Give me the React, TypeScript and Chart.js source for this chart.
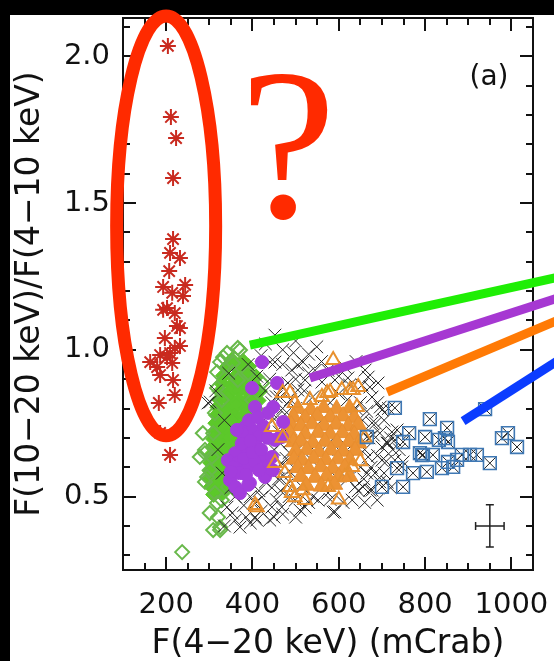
import { useEffect, useRef } from 'react';
import { Chart, registerables } from 'chart.js';

Chart.register(...registerables);

const WIDTH = 554;
const HEIGHT = 661;
const SANS = '"DejaVu Sans", sans-serif';

// Axis ranges and labelled ticks
const X_MIN = 100;
const X_MAX = 1050;
const Y_MIN = 0.25;
const Y_MAX = 2.13;
const xTickLabels = [200, 400, 600, 800, 1000];
const yTickLabels = [0.5, 1.0, 1.5, 2.0];

// Red asterisks: the low-flux, hard-ratio group
const redX = [204, 211, 223, 216, 216, 209, 232, 207, 244, 193, 214, 239, 202, 193, 220, 225, 232, 197, 232, 220, 186, 209, 163, 179, 214, 202, 186, 216, 220, 183, 186, 209];
const redY = [2.035, 1.793, 1.721, 1.585, 1.377, 1.33, 1.313, 1.268, 1.221, 1.214, 1.194, 1.183, 1.142, 1.136, 1.125, 1.081, 1.074, 1.04, 1.013, 1.006, 0.982, 0.989, 0.958, 0.941, 0.955, 0.975, 0.914, 0.897, 0.846, 0.819, 0.717, 0.642];

// Green diamonds: outlying members
const greenRimX = [371, 341, 325, 353, 318, 318, 366, 329, 313, 309, 290, 306, 290, 301, 313, 329, 301, 320, 325, 343, 360, 383, 399, 399, 422, 390, 237, 278, 295, 309, 325, 318, 332, 366, 355, 285, 290];
const greenRimY = [0.999, 0.989, 0.958, 0.924, 0.924, 0.87, 0.897, 0.829, 0.785, 0.716, 0.648, 0.635, 0.55, 0.59, 0.512, 0.488, 0.444, 0.43, 0.386, 0.533, 0.522, 0.624, 0.716, 0.829, 0.887, 0.921, 0.311, 0.635, 0.567, 0.386, 0.396, 0.478, 0.975, 1.006, 0.955, 0.716, 0.659];

// Green diamonds: the crowded middle of the group
const greenCoreX = [352, 378, 340, 366, 391, 333, 358, 384, 408, 329, 353, 377, 401, 325, 347, 371, 396, 416, 323, 344, 367, 391, 413, 320, 341, 362, 386, 407, 317, 337, 358, 380, 399, 315, 334, 355, 377, 313, 331, 351, 372, 310, 329, 349, 369, 308, 326, 345, 364, 305, 323, 343, 361, 303, 321, 341, 302, 319, 338, 301, 318, 337, 305, 323, 341, 310, 329];
const greenCoreY = [0.965, 0.961, 0.94, 0.936, 0.943, 0.912, 0.905, 0.915, 0.908, 0.885, 0.881, 0.889, 0.884, 0.858, 0.855, 0.861, 0.852, 0.859, 0.831, 0.834, 0.828, 0.833, 0.827, 0.804, 0.8, 0.807, 0.803, 0.798, 0.777, 0.781, 0.774, 0.779, 0.772, 0.75, 0.746, 0.753, 0.748, 0.722, 0.726, 0.719, 0.724, 0.696, 0.692, 0.699, 0.694, 0.668, 0.672, 0.665, 0.67, 0.642, 0.638, 0.645, 0.64, 0.615, 0.611, 0.618, 0.588, 0.585, 0.591, 0.561, 0.557, 0.564, 0.534, 0.531, 0.537, 0.507, 0.51];

// Purple filled circles
const purpleX = [422, 457, 399, 406, 448, 436, 471, 464, 383, 399, 413, 383, 360, 343, 366, 390, 422, 434, 429, 394, 348, 360, 371, 376, 410, 445, 452, 364, 390, 447, 468, 375, 395, 355, 380, 405, 370, 415, 385, 350, 400, 420, 435, 425, 392, 412];
const purpleY = [0.958, 0.887, 0.87, 0.805, 0.805, 0.785, 0.754, 0.703, 0.737, 0.727, 0.703, 0.659, 0.648, 0.624, 0.614, 0.601, 0.635, 0.601, 0.567, 0.546, 0.556, 0.533, 0.512, 0.716, 0.669, 0.635, 0.693, 0.727, 0.54, 0.59, 0.703, 0.68, 0.69, 0.6, 0.63, 0.62, 0.58, 0.59, 0.575, 0.585, 0.65, 0.66, 0.7, 0.74, 0.76, 0.77];

// Orange triangles: outlying members
const orangeRimX = [587, 445, 452, 406, 645, 607, 580, 561, 533, 498, 470, 631, 522, 491, 575, 614, 626, 642, 487, 517, 410, 498, 633, 573, 487, 660, 650, 470, 475, 600];
const orangeRimY = [0.965, 0.737, 0.614, 0.471, 0.873, 0.863, 0.856, 0.839, 0.829, 0.819, 0.853, 0.601, 0.488, 0.512, 0.533, 0.567, 0.863, 0.805, 0.533, 0.522, 0.464, 0.498, 0.863, 0.853, 0.853, 0.7, 0.62, 0.7, 0.58, 0.49];

// Orange triangles: the crowded middle of the group
const orangeCoreX = [505, 535, 565, 595, 625, 495, 522, 550, 580, 610, 636, 490, 512, 538, 566, 594, 622, 645, 488, 522, 552, 580, 608, 636, 495, 512, 540, 568, 596, 624, 646, 500, 526, 554, 582, 610, 638, 496, 515, 542, 570, 598, 626, 505, 530, 558, 586, 614, 512, 545, 572, 600, 625, 525, 560, 590];
const orangeCoreY = [0.8, 0.796, 0.803, 0.798, 0.801, 0.772, 0.768, 0.775, 0.77, 0.774, 0.769, 0.744, 0.741, 0.747, 0.742, 0.746, 0.74, 0.745, 0.715, 0.712, 0.718, 0.713, 0.717, 0.711, 0.686, 0.689, 0.683, 0.688, 0.684, 0.687, 0.682, 0.656, 0.659, 0.653, 0.658, 0.654, 0.657, 0.627, 0.623, 0.63, 0.625, 0.628, 0.624, 0.598, 0.595, 0.601, 0.596, 0.6, 0.568, 0.565, 0.571, 0.566, 0.569, 0.538, 0.535, 0.541];

// Black crosses: all remaining observations
const blackX = [452, 549, 452, 517, 491, 302, 668, 691, 654, 677, 700, 677, 695, 712, 730, 746, 700, 684, 677, 689, 656, 638, 631, 591, 575, 552, 522, 499, 468, 445, 422, 406, 371, 353, 341, 406, 515, 482, 505, 464, 522, 621, 591, 561, 661, 475, 700, 668, 723, 730, 530, 505, 672, 696, 672, 587, 510, 735, 749, 714, 712, 297, 410, 441, 430, 445, 470, 455, 480, 465, 485, 470, 490, 460, 480, 445, 430, 415, 395, 380, 360, 350, 330, 320, 335, 315, 345, 390, 410, 420, 500, 540, 580, 600, 620, 640, 655, 645, 660, 650, 665, 620, 540, 550, 600, 510, 685, 705, 725, 615, 640, 575, 545, 495, 470, 440, 420, 455, 385, 360, 335,
  440, 450, 462, 475, 488, 458, 472, 445, 488, 478, 495, 465, 485, 500, 430, 455, 470, 440, 500, 520,
  650, 665, 680, 690, 670, 658, 645, 675, 695, 710, 720, 740, 705, 690, 715, 720, 660, 610, 580, 530,
  520, 560, 600, 540, 585, 620, 505, 575,
  470, 500, 440, 395, 450, 470, 500, 430, 560, 600, 530, 625];
const blackY = [1.05, 1.01, 0.958, 0.958, 0.931, 0.822, 0.907, 0.887, 0.88, 0.839, 0.795, 0.751, 0.716, 0.682, 0.624, 0.601, 0.624, 0.58, 0.522, 0.488, 0.533, 0.533, 0.488, 0.448, 0.512, 0.488, 0.464, 0.488, 0.464, 0.464, 0.498, 0.43, 0.396, 0.444, 0.464, 0.478, 0.533, 0.887, 0.863, 0.839, 0.897, 0.904, 0.897, 0.89, 0.931, 0.751, 0.669, 0.635, 0.72, 0.693, 0.985, 0.948, 0.873, 0.805, 0.522, 0.447, 0.454, 0.727, 0.618, 0.682, 0.55, 0.819, 0.42, 0.958, 0.86, 0.82, 0.8, 0.77, 0.72, 0.68, 0.65, 0.61, 0.58, 0.56, 0.54, 0.53, 0.55, 0.52, 0.5, 0.47, 0.5, 0.53, 0.58, 0.66, 0.76, 0.86, 0.92, 0.95, 0.91, 0.98, 0.8, 0.84, 0.82, 0.85, 0.83, 0.8, 0.76, 0.7, 0.66, 0.6, 0.58, 0.56, 0.5, 0.68, 0.66, 0.64, 0.75, 0.58, 0.66, 0.94, 0.96, 0.93, 0.93, 0.99, 0.95, 0.9, 0.45, 0.49, 0.43, 0.42, 0.4,
  0.62, 0.66, 0.72, 0.78, 0.83, 0.6, 0.57, 0.58, 0.69, 0.63, 0.6, 0.52, 0.5, 0.52, 0.7, 0.84, 0.87, 0.78, 0.9, 0.86,
  0.82, 0.79, 0.71, 0.64, 0.7, 0.56, 0.52, 0.6, 0.55, 0.62, 0.7, 0.66, 0.76, 0.82, 0.8, 0.53, 0.48, 0.48, 0.49, 0.48,
  0.72, 0.76, 0.7, 0.62, 0.58, 0.66, 0.66, 0.68,
  0.44, 0.43, 0.42, 0.41, 0.43, 1.0, 1.03, 1.02, 0.96, 0.91, 0.92, 0.88];

// Blue squares: the high-flux group (each also carries its cross)
const blueX = [730, 811, 851, 939, 763, 800, 846, 853, 749, 978, 992, 1013, 788, 795, 818, 885, 904, 920, 874, 865, 853, 839, 804, 772, 735, 950, 749, 700, 832, 665, 793];
const blueY = [0.802, 0.764, 0.734, 0.798, 0.716, 0.703, 0.699, 0.686, 0.686, 0.699, 0.716, 0.669, 0.648, 0.642, 0.642, 0.642, 0.642, 0.642, 0.625, 0.601, 0.618, 0.597, 0.584, 0.58, 0.597, 0.614, 0.533, 0.533, 0.693, 0.703, 0.641];

// Typical error bar
const errCenter = [950, 0.4];
const errHalf = [33, 0.072];

// Coloured leader lines pointing off to the right
const leaders = [
  { color: '#1fee05', from: [394, 1.016], to: [1115, 1.249] },
  { color: '#a638d2', from: [533, 0.904], to: [1115, 1.18] },
  { color: '#ff7a05', from: [712, 0.856], to: [1115, 1.105] },
  { color: '#0b3cff', from: [888, 0.757], to: [1115, 0.97] },
];

// Ring around the red group and the question mark beside it
const ringCenter = [200, 1.422];
const ringRadius = [114.7, 0.715];
const queryAt = [482, 1.452];

const pts = (xs: number[], ys: number[]) => xs.map((x, i) => ({ x, y: ys[i] }));

// keep the plot box fixed: no extra room reserved for overhanging labels
const noOverhang = (s: any) => {
  s.paddingLeft = 0;
  s.paddingRight = 0;
  s.paddingTop = 0;
  s.paddingBottom = 0;
};

const framePlugin = {
  id: 'frame',
  beforeDraw(chart: any) {
    const { ctx } = chart;
    ctx.save();
    ctx.fillStyle = '#ffffff';
    ctx.fillRect(0, 0, WIDTH, HEIGHT);
    ctx.fillStyle = '#000000';
    ctx.fillRect(0, 0, WIDTH, 15);
    ctx.fillRect(0, 0, 10, HEIGHT);
    ctx.restore();
  },
  afterDatasetsDraw(chart: any) {
    const { ctx, chartArea: a } = chart;
    const xs = chart.scales.x;
    const ys = chart.scales.y;
    ctx.save();
    ctx.strokeStyle = '#111';
    ctx.lineWidth = 2;
    ctx.strokeRect(a.left, a.top, a.right - a.left, a.bottom - a.top);
    ctx.beginPath();
    for (let v = 150; v <= 1000; v += 50) {
      const p = Math.round(xs.getPixelForValue(v));
      const len = v % 200 === 0 ? 13 : 7;
      ctx.moveTo(p, a.bottom);
      ctx.lineTo(p, a.bottom - len);
      ctx.moveTo(p, a.top);
      ctx.lineTo(p, a.top + len);
    }
    for (let k = 3; k <= 21; k++) {
      const p = Math.round(ys.getPixelForValue(k / 10));
      const len = k % 5 === 0 ? 13 : 7;
      ctx.moveTo(a.left, p);
      ctx.lineTo(a.left + len, p);
      ctx.moveTo(a.right, p);
      ctx.lineTo(a.right - len, p);
    }
    ctx.stroke();

    // error bar
    const cx = xs.getPixelForValue(errCenter[0]);
    const cy = ys.getPixelForValue(errCenter[1]);
    const x0 = xs.getPixelForValue(errCenter[0] - errHalf[0]);
    const x1 = xs.getPixelForValue(errCenter[0] + errHalf[0]);
    const y0 = ys.getPixelForValue(errCenter[1] + errHalf[1]);
    const y1 = ys.getPixelForValue(errCenter[1] - errHalf[1]);
    ctx.lineWidth = 1.5;
    ctx.strokeStyle = '#222';
    ctx.beginPath();
    ctx.moveTo(x0, cy); ctx.lineTo(x1, cy);
    ctx.moveTo(cx, y0); ctx.lineTo(cx, y1);
    ctx.moveTo(x0, cy - 4); ctx.lineTo(x0, cy + 4);
    ctx.moveTo(x1, cy - 4); ctx.lineTo(x1, cy + 4);
    ctx.moveTo(cx - 4, y0); ctx.lineTo(cx + 4, y0);
    ctx.moveTo(cx - 4, y1); ctx.lineTo(cx + 4, y1);
    ctx.stroke();

    // panel letter
    ctx.fillStyle = '#111';
    ctx.font = `28px ${SANS}`;
    ctx.textAlign = 'center';
    ctx.textBaseline = 'middle';
    ctx.fillText('(a)', xs.getPixelForValue(948), ys.getPixelForValue(1.926));
    ctx.restore();
  },
  afterDraw(chart: any) {
    const { ctx } = chart;
    const xs = chart.scales.x;
    const ys = chart.scales.y;
    const px = (v: number) => xs.getPixelForValue(v);
    const py = (v: number) => ys.getPixelForValue(v);
    ctx.save();
    ctx.lineCap = 'butt';
    ctx.lineWidth = 9;
    for (const l of leaders) {
      ctx.strokeStyle = l.color;
      ctx.beginPath();
      ctx.moveTo(px(l.from[0]), py(l.from[1]));
      ctx.lineTo(px(l.to[0]), py(l.to[1]));
      ctx.stroke();
    }
    const ecx = px(ringCenter[0]);
    const ecy = py(ringCenter[1]);
    ctx.strokeStyle = '#ff2a00';
    ctx.lineWidth = 13;
    ctx.beginPath();
    ctx.ellipse(ecx, ecy, px(ringCenter[0] + ringRadius[0]) - ecx, ecy - py(ringCenter[1] + ringRadius[1]), 0, 0, Math.PI * 2);
    ctx.stroke();
    ctx.fillStyle = '#ff2a00';
    ctx.font = '217px "Liberation Serif", serif';
    ctx.textAlign = 'center';
    ctx.textBaseline = 'alphabetic';
    ctx.fillText('?', px(queryAt[0]), py(queryAt[1]));
    ctx.restore();
  },
};

export default function App() {
  const ref = useRef<HTMLCanvasElement | null>(null);

  useEffect(() => {
    if (!ref.current) return;
    const chart = new Chart(ref.current, {
      type: 'scatter',
      data: {
        datasets: [
          {
            data: pts(redX, redY), order: 1, pointStyle: 'star', pointRadius: 8,
            borderColor: '#c92a1f', backgroundColor: '#c92a1f', borderWidth: 2,
          },
          {
            data: pts(blueX, blueY), order: 2, pointStyle: 'rect', pointRadius: 9,
            borderColor: '#3f78b4', backgroundColor: 'rgba(0,0,0,0)', borderWidth: 1.6,
          },
          {
            data: pts(orangeRimX, orangeRimY), order: 3, pointStyle: 'triangle', pointRadius: 8,
            borderColor: '#e8902e', backgroundColor: 'rgba(0,0,0,0)', borderWidth: 2,
          },
          {
            data: pts(purpleX, purpleY), order: 4, pointStyle: 'circle', pointRadius: 6.5,
            borderColor: '#a33ddd', backgroundColor: '#a33ddd', borderWidth: 1,
          },
          {
            data: pts(orangeCoreX, orangeCoreY), order: 5, pointStyle: 'triangle', pointRadius: 9.5,
            borderColor: '#e98e2f', backgroundColor: '#ec9233', borderWidth: 1,
          },
          {
            data: pts(blackX.concat(blueX), blackY.concat(blueY)), order: 6, pointStyle: 'crossRot', pointRadius: 9,
            borderColor: '#262626', backgroundColor: '#262626', borderWidth: 1,
          },
          {
            data: pts(greenRimX, greenRimY), order: 7, pointStyle: 'rectRot', pointRadius: 7,
            borderColor: '#68b84a', backgroundColor: 'rgba(0,0,0,0)', borderWidth: 2,
          },
          {
            data: pts(greenCoreX, greenCoreY), order: 8, pointStyle: 'rectRot', pointRadius: 8,
            borderColor: '#5cc82a', backgroundColor: '#5cc82a', borderWidth: 1,
          },
        ],
      },
      options: {
        animation: false,
        responsive: false,
        devicePixelRatio: 1,
        events: [],
        layout: { padding: { left: 10, top: 18, right: 21, bottom: 0 } },
        plugins: { legend: { display: false }, tooltip: { enabled: false } },
        scales: {
          x: {
            type: 'linear', min: X_MIN, max: X_MAX,
            grid: { display: false, drawTicks: false },
            border: { display: false },
            afterBuildTicks: (s: any) => { s.ticks = xTickLabels.map((value) => ({ value })); },
            afterFit: (s: any) => { s.height = 91; noOverhang(s); },
            ticks: {
              padding: 18, color: '#111', maxRotation: 0, autoSkip: false,
              font: { family: SANS, size: 29 },
              callback: (v: any) => String(v),
            },
            title: {
              display: true, text: 'F(4−20 keV) (mCrab)', color: '#111',
              font: { family: SANS, size: 33, lineHeight: 1 },
              padding: { top: 0, bottom: 0 },
            },
          },
          y: {
            type: 'linear', min: Y_MIN, max: Y_MAX,
            grid: { display: false, drawTicks: false },
            border: { display: false },
            afterBuildTicks: (s: any) => { s.ticks = yTickLabels.map((value) => ({ value })); },
            afterFit: (s: any) => { s.width = 113; noOverhang(s); },
            ticks: {
              padding: 13, color: '#111', autoSkip: false,
              font: { family: SANS, size: 29 },
              callback: (v: any) => Number(v).toFixed(1),
            },
            title: {
              display: true, text: 'F(10−20 keV)/F(4−10 keV)', color: '#111',
              font: { family: SANS, size: 33, lineHeight: 1 },
              padding: { top: 3.5, bottom: 0 },
            },
          },
        },
      },
      plugins: [framePlugin],
    });
    return () => chart.destroy();
  }, []);

  return (
    <canvas
      ref={ref}
      width={WIDTH}
      height={HEIGHT}
      style={{ position: 'absolute', left: 0, top: 0, display: 'block' }}
    />
  );
}
